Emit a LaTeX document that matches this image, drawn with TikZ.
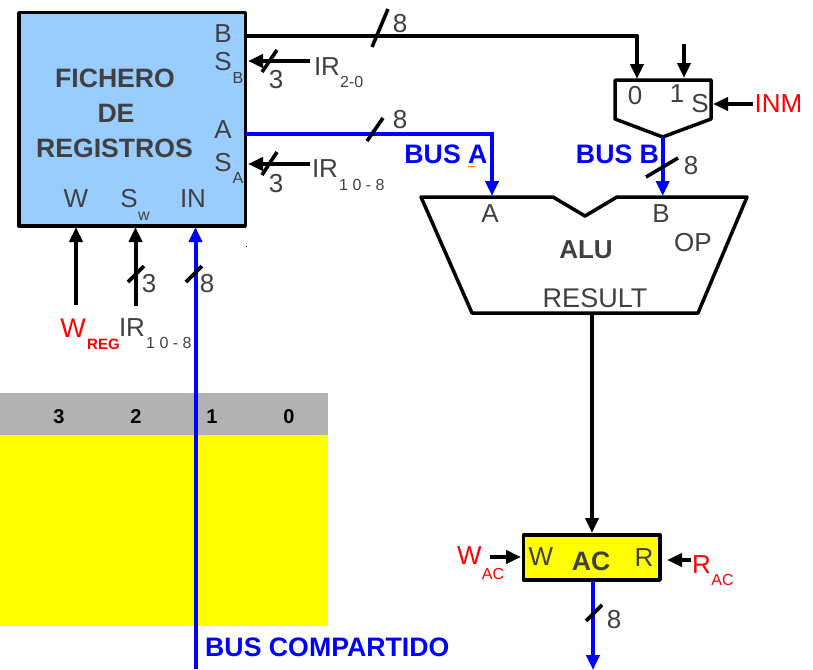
\documentclass[tikz,border=0pt]{standalone}
\usepackage{fontspec}
\setmainfont{Liberation Sans}
\usetikzlibrary{arrows.meta}
\definecolor{txt}{HTML}{404040}
\definecolor{regblue}{HTML}{99CCFF}
\definecolor{busblue}{HTML}{0000FF}
\definecolor{tabgray}{HTML}{B2B2B2}
\definecolor{pureyellow}{HTML}{FFFF00}
\definecolor{purered}{HTML}{FF0000}
\tikzset{
  lbl/.style={inner sep=0pt,outer sep=0pt,text=txt,font=\fontsize{26}{26}\selectfont},
  lblb/.style={lbl,font=\fontsize{26.6}{26}\selectfont\bfseries},
  sublbl/.style={inner sep=0pt,text=txt,font=\fontsize{16}{16}\selectfont},
  redl/.style={lbl,text=purered},
  redsub/.style={sublbl,text=purered},
  busl/.style={inner sep=0pt,text=busblue,font=\fontsize{26.7}{26}\selectfont\bfseries},
  wire/.style={line width=4pt,black},
  bus/.style={line width=4pt,busblue},
  tip/.style={-{Triangle[length=15pt,width=13pt]}},
  slashm/.style={line width=3.6pt,black},
  block/.style={line width=3.5pt,black,line join=round},
}
\begin{document}
\begin{tikzpicture}[x=1pt,y=-1pt]
\useasboundingbox (0,0) rectangle (813,669);
% table
\fill[tabgray] (0,393) rectangle (328,435);
\fill[pureyellow] (0,435) rectangle (328,626);
\foreach \n/\tx/\tt in {t3/59/3,t2/136/2,t1/212/1,t0/289/0}
  \node[inner sep=0pt,text=black,font=\fontsize{20}{20}\selectfont\bfseries] (\n) at (\tx,416.5) {\tt};
% register file
\node[block,draw,fill=regblue,minimum width=226.2pt,minimum height=213.2pt,inner sep=0pt,outer sep=0pt] (reg) at (132.15,119.35) {};
\node[lblb,align=center] (fich) at (115,78) {FICHERO};
\node[lblb] (de) at (116,113) {DE};
\node[lblb] (regs) at (114.5,148) {REGISTROS};
\node[lbl] (lB) at (223,34) {B};
\node[lbl] (lSB) at (223,62) {S};
\node[sublbl] (lSBs) at (238,78) {B};
\node[lbl] (lA) at (223,130) {A};
\node[lbl] (lSA) at (223,163) {S};
\node[sublbl] (lSAs) at (238,178) {A};
\node[lbl] (lW) at (76,199) {W};
\node[lbl] (lS) at (129,199) {S};
\node[sublbl] (lSw) at (144,216) {w};
\node[lbl] (lIN) at (193,199) {IN};
\fill[black] (245.5,245.5) rectangle (247,247);
% mux
\coordinate (m0) at (637,79);
\coordinate (m1) at (684,78);
\coordinate (mo) at (662.7,137);
\draw[block,fill=white] (615,80) -- (711,80) -- (711,119) -- (mo) -- (615,119) -- cycle;
\node[lbl] (l0) at (635,96) {0};
\node[lbl] (l1) at (677,94) {1};
\node[lbl] (lS2) at (700,104) {S};
\node[redl] (inm) at (778.5,104) {INM};
% ALU
\coordinate (aluA) at (492,196);
\coordinate (aluB) at (662.7,196);
\coordinate (aluR) at (592,313);
\draw[block] (421,197) -- (553,197) -- (585,216) -- (617,197) -- (747,197) -- (698,313) -- (472,313) -- cycle;
\node[lbl] (la) at (490,214) {A};
\node[lbl] (lb) at (661,214) {B};
\node[lblb,font=\fontsize{26}{26}\selectfont\bfseries] (alu) at (586,250) {ALU};
\node[lbl] (op) at (693,243) {OP};
\node[lbl,font=\fontsize{27}{27}\selectfont] (res) at (595,298) {RESULT};
% AC
\node[block,draw,fill=pureyellow,minimum width=136.5pt,minimum height=44.9pt,inner sep=0pt,outer sep=0pt] (ac) at (591.7,557.5) {};
\node[lbl] (acW) at (541,557) {W};
\node[lblb] (acT) at (591,561) {AC};
\node[lbl] (acR) at (644,558) {R};
% free ends
\coordinate (bturn) at (637,36);
\coordinate (aturn) at (492,134);
\coordinate (bS) at (246,36);
\coordinate (aS) at (246,134);
\coordinate (sbE) at (310,61);
\coordinate (sbT) at (248,61);
\coordinate (saE) at (310,164);
\coordinate (saT) at (248,164);
\coordinate (wE) at (76,305);
\coordinate (wT) at (76,227);
\coordinate (sE) at (135.5,306);
\coordinate (sT) at (135.5,227);
\coordinate (inE) at (195.5,669);
\coordinate (inT) at (195.5,227);
\coordinate (m1E) at (684,44);
\coordinate (inmE) at (753,104);
\coordinate (inmT) at (713,104);
\coordinate (acin) at (592,533);
\coordinate (acout) at (593,581);
\coordinate (busE) at (593,670);
\coordinate (waE) at (490,557);
\coordinate (waT) at (521,557);
\coordinate (raE) at (691,560);
\coordinate (raT) at (667,560);
% wires
\draw[wire,tip,line join=round] (bS) -- (bturn) -- (m0);
\draw[bus,tip,line join=miter] (aS) -- (aturn) -- (aluA);
\draw[wire,tip] (sbE) -- (sbT);
\draw[wire,tip] (saE) -- (saT);
\draw[wire,tip] (wE) -- (wT);
\draw[wire,tip] (sE) -- (sT);
\draw[bus,tip] (inE) -- (inT);
\draw[wire,tip] (m1E) -- (m1);
\draw[wire,tip] (inmE) -- (inmT);
\draw[bus,tip] (mo) -- (aluB);
\draw[wire,tip] (aluR) -- (acin);
\draw[bus,tip] (acout) -- (busE);
\draw[wire,tip] (waE) -- (waT);
\draw[wire,tip] (raE) -- (raT);
% slashes
\draw[slashm] (372,47) -- (388,9);
\draw[slashm] (367,141) -- (383,118);
\draw[slashm] (262,72) -- (277,50);
\draw[slashm] (262,175) -- (277,152);
\draw[slashm] (128,282) -- (144,266);
\draw[slashm] (186,282) -- (202,266);
\draw[slashm] (646,177) -- (678,158);
\draw[slashm] (586,621) -- (602,605);
% numbers
\node[lbl] (n1) at (400,24) {8};
\node[lbl] (n2) at (400,120) {8};
\node[lbl] (n3) at (276,80) {3};
\node[lbl] (n4) at (276,184) {3};
\node[lbl] (n5) at (149,284) {3};
\node[lbl] (n6) at (207,284) {8};
\node[lbl] (n7) at (691,166) {8};
\node[lbl] (n8) at (614,620) {8};
% IR labels
\node[lbl,anchor=west] (ir1) at (314,67) {IR};
\node[sublbl,anchor=west] (ir1s) at (340,82) {2-0};
\node[lbl,anchor=west] (ir2) at (312,169) {IR};
\node[sublbl,anchor=west] (ir2s) at (339,185) {1 0 - 8};
\node[lbl,anchor=west] (ir3) at (119,328) {IR};
\node[sublbl,anchor=west] (ir3s) at (146,343) {1 0 - 8};
% red labels
\node[redl,font=\fontsize{27}{27}\selectfont] (wr) at (73,328) {W};
\node[redsub,font=\fontsize{15}{15}\selectfont\bfseries] (wrs) at (103.5,344) {REG};
\node[redl] (wa) at (469.5,556) {W};
\node[redsub] (was) at (493,574) {AC};
\node[redl] (ra) at (701.5,565) {R};
\node[redsub] (ras) at (722.5,580) {AC};
% bus labels
\node[busl] (busa) at (446,154) {BUS A};
\fill[orange] (468,165.5) rectangle (475,166.5);
\node[busl] (busb) at (617.5,154) {BUS B};
\node[busl,anchor=west] (busc) at (205,647) {BUS COMPARTIDO};
\end{tikzpicture}
\end{document}
